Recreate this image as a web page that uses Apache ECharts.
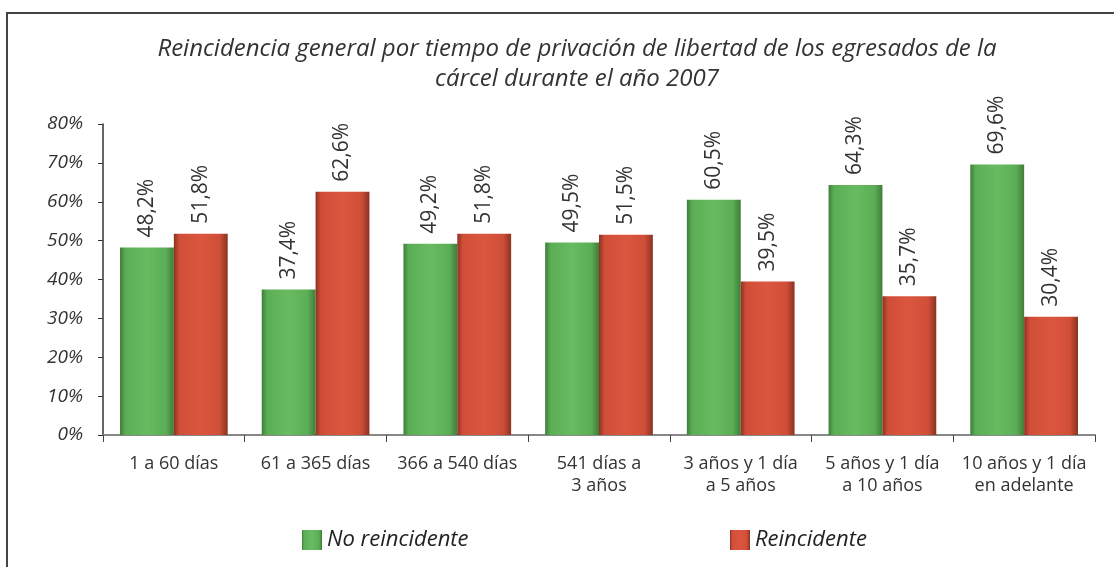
<!DOCTYPE html>
<html lang="es">
<head>
	<meta charset="UTF-8">
	<title>Reincidencia general</title>
	<script src="https://cdn.jsdelivr.net/npm/echarts@6/dist/echarts.min.js"></script>
	<style>
		html,body{margin:0;width:100%;height:100%;background:#fff;}
		#chart{width:1114px;height:567px;}
	</style>
</head>
<body>
	<div id="chart"></div>
<script>
	var categories = ['1 a 60 días', '61 a 365 días', '366 a 540 días', '541 días a\n3 años',
		'3 años y 1 día\na 5 años', '5 años y 1 día\na 10 años', '10 años y 1 día\nen adelante'];
	var noReincidente = [48.2, 37.4, 49.2, 49.5, 60.5, 64.3, 69.6];
	var reincidente = [51.8, 62.6, 51.8, 51.5, 39.5, 35.7, 30.4];
	var yTicks = [0, 10, 20, 30, 40, 50, 60, 70, 80];

	var font = '"Open Sans", "Noto Sans", sans-serif';

	// relleno con bordes oscuros para imitar el biselado
	function bevel(dark, mid, light) {
		return new echarts.graphic.LinearGradient(0, 0, 1, 0, [
			{offset: 0, color: dark},
			{offset: 0.1, color: mid},
			{offset: 0.5, color: light},
			{offset: 0.85, color: mid},
			{offset: 1, color: dark}
		]);
	}

	function fmt(p) {
		return p.value.toFixed(1).replace('.', ',') + '%';
	}

	function serie(name, data, fill) {
		return {
			name: name,
			type: 'bar',
			data: data,
			barGap: '0%',
			barCategoryGap: '24%',
			itemStyle: {color: fill},
			label: {
				show: true,
				position: 'top',
				rotate: 90,
				align: 'left',
				verticalAlign: 'middle',
				distance: 10,
				fontFamily: font,
				fontSize: 21,
				color: '#333',
				formatter: fmt
			}
		};
	}

	var legendText = {fontFamily: font, fontStyle: 'italic', fontSize: 22, color: '#222'};

	var myChart = echarts.init(document.getElementById('chart'));
	myChart.setOption({
		animation: false,
		title: {
			text: 'Reincidencia general por tiempo de privación de libertad de los egresados de la\ncárcel durante el año 2007',
			left: 572,
			top: 29,
			textAlign: 'center',
			textStyle: {fontFamily: font, fontStyle: 'italic', fontWeight: 'normal', fontSize: 24, color: '#333', lineHeight: 30}
		},
		graphic: [{
			type: 'rect',
			shape: {x: 7, y: 13, width: 1130, height: 580},
			style: {fill: 'none', stroke: '#444', lineWidth: 2},
			silent: true
		}],
		legend: [{
			data: ['No reincidente'],
			left: 297, top: 524,
			itemWidth: 20, itemHeight: 20, icon: 'rect',
			textStyle: legendText
		}, {
			data: ['Reincidente'],
			left: 725, top: 524,
			itemWidth: 20, itemHeight: 20, icon: 'rect',
			textStyle: legendText
		}],
		grid: {left: 103, right: 19, top: 124, bottom: 132},
		xAxis: {
			type: 'category',
			data: categories,
			axisLine: {lineStyle: {color: '#888', width: 2}},
			axisTick: {show: true, length: 7, lineStyle: {color: '#444'}},
			axisLabel: {interval: 0, fontFamily: font, fontSize: 18, color: '#333', margin: 18, lineHeight: 22}
		},
		yAxis: {
			type: 'value',
			min: 0,
			max: 80,
			interval: 10,
			splitLine: {show: false},
			axisLine: {show: true, lineStyle: {color: '#333', width: 1.5}},
			axisTick: {show: true, length: 5, lineStyle: {color: '#333'}},
			axisLabel: {
				fontFamily: font, fontStyle: 'italic', fontSize: 19, color: '#333', margin: 20,
				formatter: function (v) { return yTicks.indexOf(v) >= 0 ? v + '%' : ''; }
			}
		},
		series: [
			serie('No reincidente', noReincidente, bevel('#3f7d39', '#5cae56', '#69bb62')),
			serie('Reincidente', reincidente, bevel('#8a3222', '#cf4e38', '#dc563e'))
		]
	});
</script>
</body>
</html>
